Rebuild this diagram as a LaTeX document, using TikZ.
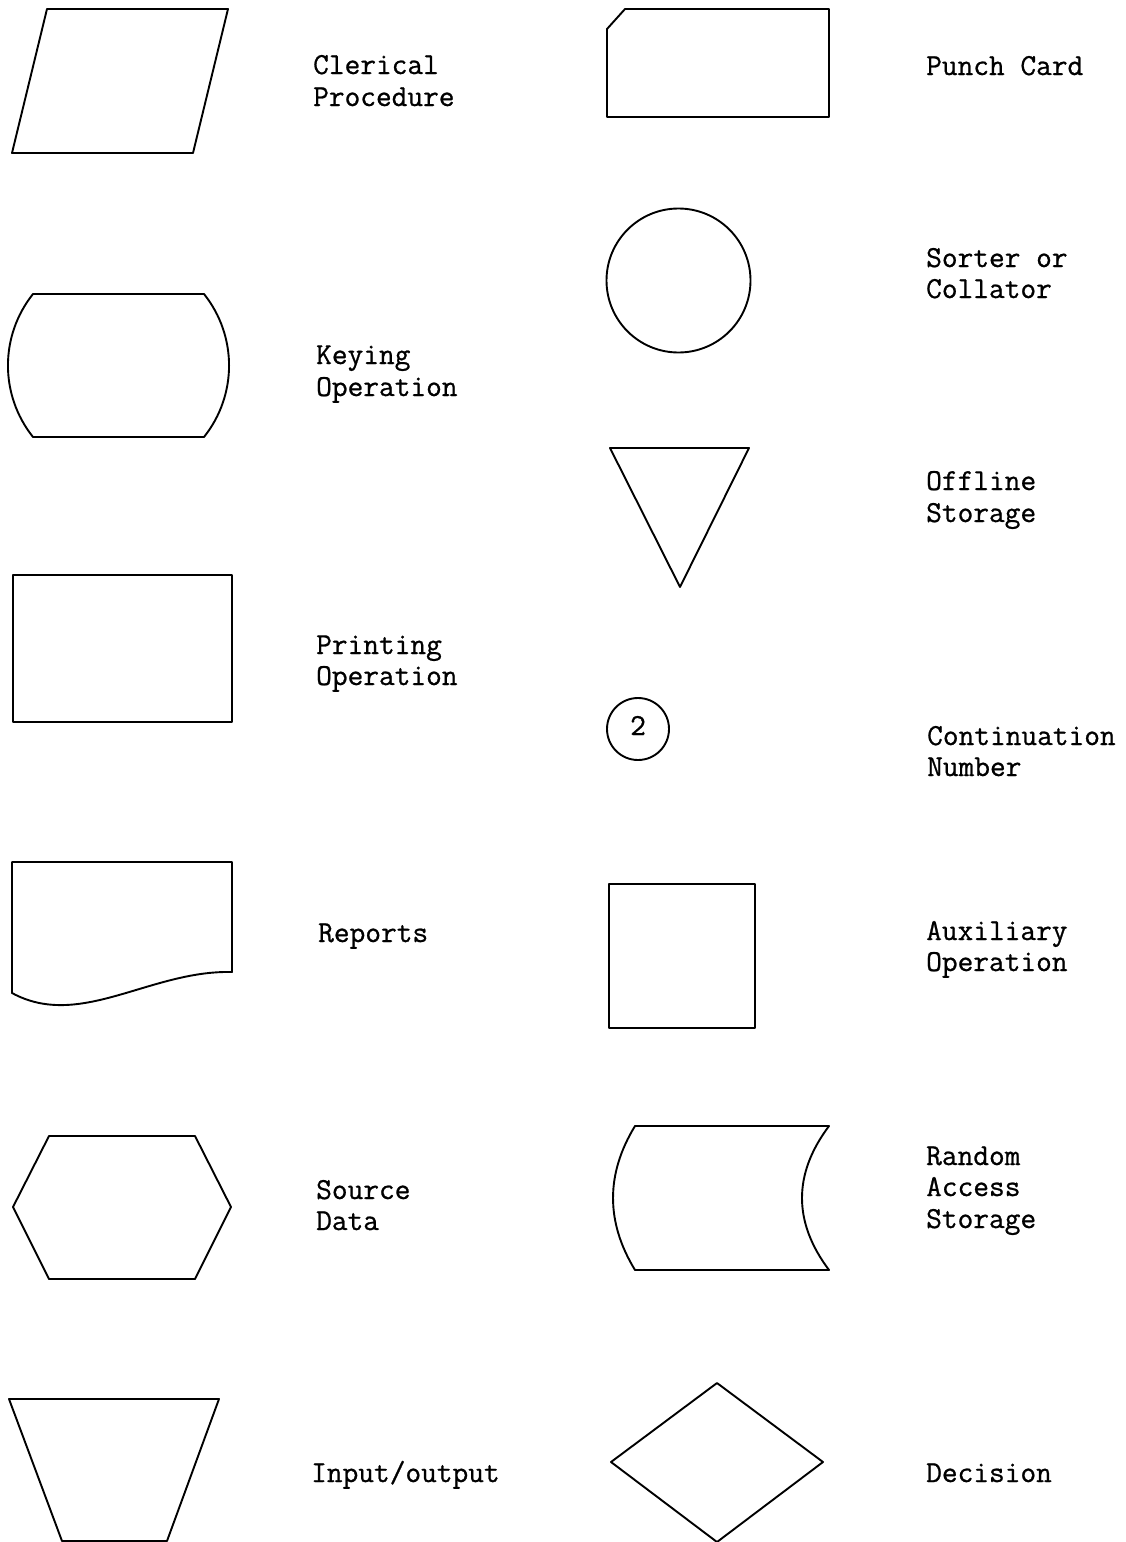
\documentclass[tikz,border=0pt]{standalone}
\usepackage{fontspec}
\setmonofont{Latin Modern Mono}[FakeBold=0.8]
\begin{document}
\begin{tikzpicture}[x=1pt,y=-1pt,
  shp/.style={draw=black, line width=1.9pt, line join=round},
  lbl/.style={anchor=base west, inner sep=0pt, font=\ttfamily\fontsize{30.5}{30.5}\selectfont, text=black}]
\useasboundingbox (0,0) rectangle (1125,1542);
\fill[white] (0,0) rectangle (1125,1542);
% ---- left column shapes ----
\draw[shp] (47,9) -- (228,9) -- (193,153) -- (12,153) -- cycle;
\draw[shp] (33,294) -- (204,294) .. controls (237.4,335.9) and (237.4,395.1) .. (204,437)
  -- (33,437) .. controls (-0.4,395.1) and (-0.4,335.9) .. (33,294) -- cycle;
\draw[shp] (13,575) rectangle (232,722);
\draw[shp] (12,862) -- (232,862) -- (232,972) .. controls (150,970) and (80,1030) .. (12,993) -- cycle;
\draw[shp] (49,1136) -- (195,1136) -- (231,1207) -- (195,1279) -- (49,1279) -- (13,1207) -- cycle;
\draw[shp] (9,1399) -- (219,1399) -- (167,1541) -- (62,1541) -- cycle;
% ---- right column shapes ----
\draw[shp] (625,9) -- (829,9) -- (829,117) -- (607,117) -- (607,29) -- cycle;
\draw[shp] (678.5,280.5) circle[radius=72];
\draw[shp] (610,448) -- (749,448) -- (680,587) -- cycle;
\draw[shp] (638,729) circle[radius=31];
\node[lbl, anchor=base] (two) at (638,735) {2};
\draw[shp] (609,884) rectangle (755,1028);
\draw[shp] (635,1126) -- (829,1126) .. controls (793,1174) and (793,1222) .. (829,1270)
  -- (635,1270) .. controls (605.7,1222) and (605.7,1174) .. (635,1126) -- cycle;
\draw[shp] (717,1383) -- (823,1462) -- (717,1542) -- (611,1462) -- cycle;
% ---- left labels ----
\node[lbl] (cler1) at (313,74) {Clerical};
\node[lbl] (cler2) at (313,106) {Procedure};
\node[lbl] (key1) at (316,364) {Keying};
\node[lbl] (key2) at (316,396) {Operation};
\node[lbl] (prt1) at (316,654) {Printing};
\node[lbl] (prt2) at (316,685) {Operation};
\node[lbl] (rep) at (318,942) {Reports};
\node[lbl] (src1) at (316,1199) {Source};
\node[lbl] (src2) at (316,1230) {Data};
\node[lbl] (io) at (311,1482) {Input/output};
% ---- right labels ----
\node[lbl] (punch) at (926,75) {Punch Card};
\node[lbl] (sort1) at (926,267) {Sorter or};
\node[lbl] (sort2) at (926,298) {Collator};
\node[lbl] (off1) at (926,490) {Offline};
\node[lbl] (off2) at (926,522) {Storage};
\node[lbl] (cont1) at (927,745) {Continuation};
\node[lbl] (cont2) at (927,776) {Number};
\node[lbl] (aux1) at (926,940) {Auxiliary};
\node[lbl] (aux2) at (926,971) {Operation};
\node[lbl] (ran1) at (926,1165) {Random};
\node[lbl] (ran2) at (926,1196) {Access};
\node[lbl] (ran3) at (926,1228) {Storage};
\node[lbl] (dec) at (926,1482) {Decision};
\end{tikzpicture}
\end{document}
